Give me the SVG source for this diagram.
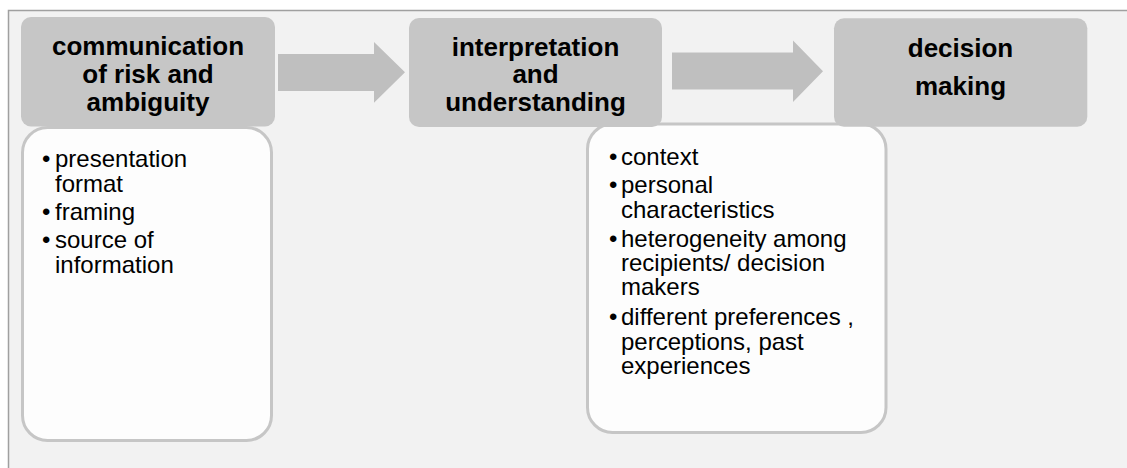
<svg xmlns="http://www.w3.org/2000/svg" width="1127" height="468" viewBox="0 0 1127 468">
<style>
.hdr{fill:#c6c6c6}
.body{fill:#fdfdfd;stroke:#c6c6c6;stroke-width:3}
.arrow{fill:#bfbfbf}
.ht{font-family:"Liberation Sans",Arial,sans-serif;font-weight:bold;font-size:26px;fill:#000;text-anchor:middle}
.bt{font-family:"Liberation Sans",Arial,sans-serif;font-size:24px;fill:#000}
</style>
<rect x="0" y="0" width="1127" height="468" fill="#ffffff"/>
<rect x="8.5" y="10.5" width="1130" height="470" fill="#f2f2f2" stroke="#a0a0a0" stroke-width="1.5"/>
<g id="connectors">
<polygon class="arrow" points="278,54 374,54 374,42 405,72.3 374,102.7 374,91 278,91"/>
<polygon class="arrow" points="672,52.5 793,52.5 793,40.5 823,71.3 793,102 793,89.5 672,89.5"/>
</g>
<g id="details-2">
<rect class="body" x="587.5" y="124" width="298.5" height="308.5" rx="25"/>
<text class="bt" x="609" y="165">•</text><text class="bt" x="621" y="165">context</text>
<text class="bt" x="609" y="193">•</text><text class="bt" x="621" y="193">personal</text>
<text class="bt" x="621" y="218">characteristics</text>
<text class="bt" x="609" y="246.5">•</text><text class="bt" x="621" y="246.5">heterogeneity among</text>
<text class="bt" x="621" y="271">recipients/ decision</text>
<text class="bt" x="621" y="295">makers</text>
<text class="bt" x="609" y="325">•</text><text class="bt" x="621" y="325">different preferences ,</text>
<text class="bt" x="621" y="349.5">perceptions, past</text>
<text class="bt" x="621" y="373.5">experiences</text>
</g>
<g id="details-1">
<rect class="body" x="22.5" y="127.5" width="249" height="313" rx="25"/>
<text class="bt" x="42" y="167">•</text><text class="bt" x="55" y="167">presentation</text>
<text class="bt" x="55" y="191.5">format</text>
<text class="bt" x="42" y="220">•</text><text class="bt" x="55" y="220">framing</text>
<text class="bt" x="42" y="248.3">•</text><text class="bt" x="55" y="248.3">source of</text>
<text class="bt" x="55" y="273.3">information</text>
</g>
<g id="node-communication">
<rect class="hdr" x="21" y="17" width="254" height="109.5" rx="10"/>
<text class="ht" x="148" y="55">communication</text>
<text class="ht" x="148" y="83.3">of risk and</text>
<text class="ht" x="148" y="111">ambiguity</text>
</g>
<g id="node-interpretation">
<rect class="hdr" x="409" y="18" width="253" height="109" rx="10"/>
<text class="ht" x="535.5" y="56">interpretation</text>
<text class="ht" x="535.5" y="83.3">and</text>
<text class="ht" x="535.5" y="111">understanding</text>
</g>
<g id="node-decision">
<rect class="hdr" x="834" y="18.3" width="253.3" height="108.4" rx="10"/>
<text class="ht" x="960.5" y="56.7">decision</text>
<text class="ht" x="960.5" y="95">making</text>
</g>
</svg>
